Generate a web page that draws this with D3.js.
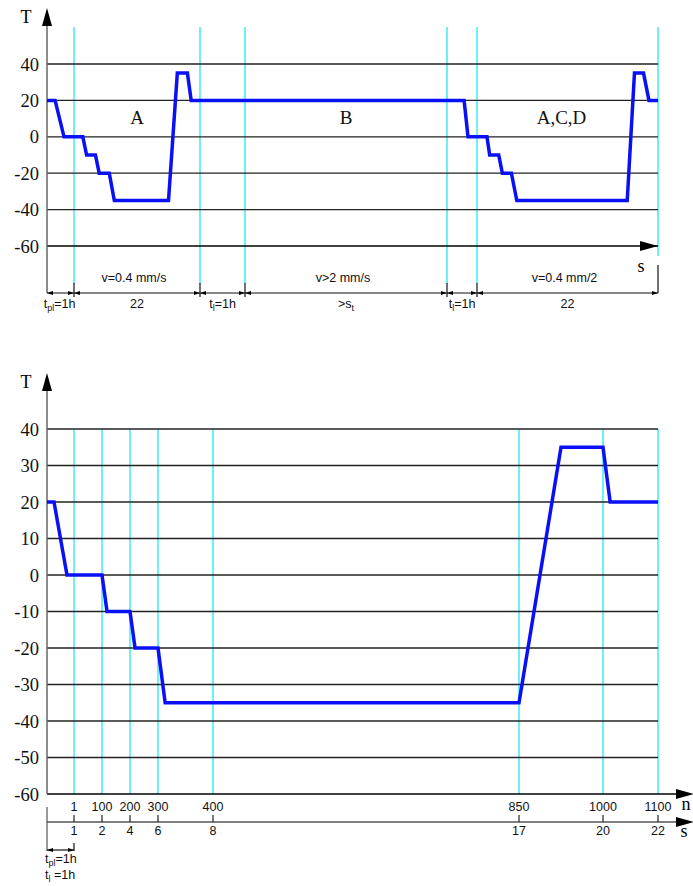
<!DOCTYPE html>
<html><head><meta charset="utf-8">
<script src="https://cdn.jsdelivr.net/npm/d3@7/dist/d3.min.js"></script>
<style>body{margin:0;background:#fff}svg{display:block}</style>
</head><body>
<script>
// ---------- data ----------
// top chart: x in "segment" units (0..6), segments of the test sequence
const topSegLabels = ["t|pl|=1h", "22", "t|l|=1h", ">s|t|", "t|l|=1h", "22"];
const topSpeedSeg = [1, 3, 5];
const topSpeedText = ["v=0.4 mm/s", "v>2 mm/s", "v=0.4 mm/2"];
const topRegionSeg = [1, 3, 5];
const topRegionText = ["A", "B", "A,C,D"];
const topGuideSeg = [1, 2, 3, 4, 5, 6];
const topYTicks = [40, 20, 0, -20, -40, -60];
const topX = [0, 0.30, 0.63, 1.07, 1.10, 1.17, 1.20, 1.28, 1.32, 1.75, 1.82, 1.90, 1.93,
              4.57, 4.70, 5.055, 5.07, 5.12, 5.14, 5.19, 5.22, 5.83, 5.87, 5.92, 5.95, 6.0];
const topT = [20, 20, 0, 0, -10, -10, -20, -20, -35, -35, 35, 35, 20,
              20, 0, 0, -10, -10, -20, -20, -35, -35, 35, 35, 20, 20];

// bottom chart: x in cycles n
const botNTicks = [1, 100, 200, 300, 400, 850, 1000, 1100];
const botSTicks = [1, 2, 4, 6, 8, 17, 20, 22];
const botYTicks = [40, 30, 20, 10, 0, -10, -20, -30, -40, -50, -60];
const botN = [0, 0.26, 0.74, 100, 118, 200, 218, 300, 313, 850, 925, 1000, 1013, 1100];
const botT = [20, 20, 0, 0, -10, -10, -20, -20, -35, -35, 35, 35, 20, 20];

// ---------- drawing ----------
const W = 693, H = 886;
const svg = d3.select("body").append("svg").attr("width", W).attr("height", H);
const SERIF = "'Liberation Serif','Times New Roman',serif";
const SANS = "'Liberation Sans',Arial,sans-serif";
const CYAN = "#22e6f2", BLUE = "#0a10f5", GRID = "#222";
const TICKFS = 18.5, SANSFS = 12.5;

function arrowHead(g, x, y, dir, len, half, color) {
  let pts;
  if (dir === "up") pts = [[x, y], [x - half, y + len], [x + half, y + len]];
  else if (dir === "right") pts = [[x, y], [x - len, y - half], [x - len, y + half]];
  else if (dir === "left") pts = [[x, y], [x + len, y - half], [x + len, y + half]];
  g.append("path").attr("d", d3.line()(pts) + "Z").attr("fill", color || "#000");
}
function subText(g, x, y, str, size, anchor) {
  const parts = str.split("|");
  const t = g.append("text").attr("x", x).attr("y", y).attr("font-family", SANS)
    .attr("font-size", size).attr("text-anchor", anchor || "middle").attr("fill", "#111");
  t.append("tspan").text(parts[0]);
  if (parts.length > 1) {
    t.append("tspan").attr("dy", 2.5).attr("font-size", size * 0.72).text(parts[1]);
    if (parts[2] !== undefined) t.append("tspan").attr("dy", -2.5).text(parts[2]);
  }
  return t;
}

// ===== TOP CHART =====
{
  const g = svg.append("g");
  const x = d3.scaleLinear().domain([0, 1, 2, 3, 4, 5, 6]).range([47, 74, 200, 245, 447, 477, 658]);
  const y = d3.scaleLinear().domain([-60, 40]).range([246, 64]);
  const dimY = 293;

  g.selectAll(".cy").data(topGuideSeg).join("line")
    .attr("x1", d => x(d)).attr("x2", d => x(d))
    .attr("y1", 27).attr("y2", d => d === 6 ? 256 : 284)
    .attr("stroke", CYAN).attr("stroke-width", 1.3);

  g.selectAll(".gr").data(topYTicks).join("line")
    .attr("x1", x(0)).attr("x2", x(6)).attr("y1", d => y(d)).attr("y2", d => y(d))
    .attr("stroke", d => d === -60 ? "#000" : GRID).attr("stroke-width", 1.3);
  arrowHead(g, x(6), y(-60), "right", 18, 5);
  g.append("text").attr("x", 641).attr("y", 272).attr("font-family", SERIF)
    .attr("font-size", 18).attr("text-anchor", "middle").text("s");

  g.append("line").attr("x1", 47).attr("x2", 47).attr("y1", 24).attr("y2", dimY)
    .attr("stroke", "#666").attr("stroke-width", 1.5);
  arrowHead(g, 47, 8, "up", 18, 5);
  g.append("text").attr("x", 26).attr("y", 23).attr("font-family", SERIF)
    .attr("font-size", 18).attr("text-anchor", "middle").text("T");
  g.selectAll(".yl").data(topYTicks).join("text")
    .attr("x", 39).attr("y", d => y(d) + 6.5).attr("text-anchor", "end")
    .attr("font-family", SERIF).attr("font-size", TICKFS).attr("fill", "#111").text(d => d);

  g.append("line").attr("x1", 47).attr("x2", x(6)).attr("y1", dimY).attr("y2", dimY)
    .attr("stroke", "#111").attr("stroke-width", 1.2);
  g.selectAll(".tk").data(topGuideSeg.slice(0, 5)).join("line")
    .attr("x1", d => x(d)).attr("x2", d => x(d)).attr("y1", 283).attr("y2", 297)
    .attr("stroke", "#111").attr("stroke-width", 1.2);
  g.append("line").attr("x1", x(6)).attr("x2", x(6)).attr("y1", 265).attr("y2", dimY)
    .attr("stroke", "#111").attr("stroke-width", 1.2);
  [0, 1, 2, 3, 4, 5, 6].forEach(d => {
    if (d > 0) arrowHead(g, x(d), dimY, "right", 6, 2);
    if (d < 6) arrowHead(g, x(d), dimY, "left", 6, 2);
  });
  topSegLabels.forEach((s, i) => {
    subText(g, (x(i) + x(i + 1)) / 2 + (i === 0 ? -1 : 0), 308, s, SANSFS);
  });
  topSpeedSeg.forEach((s, i) => {
    g.append("text").attr("x", (x(s) + x(s + 1)) / 2 - 3).attr("y", 282)
      .attr("font-family", SANS).attr("font-size", SANSFS).attr("text-anchor", "middle")
      .attr("fill", "#111").text(topSpeedText[i]);
  });
  topRegionSeg.forEach((s, i) => {
    g.append("text").attr("x", (x(s) + x(s + 1)) / 2 - (i === 2 ? 6 : 0)).attr("y", 124)
      .attr("font-family", SERIF).attr("font-size", 19).attr("text-anchor", "middle")
      .attr("fill", "#111").text(topRegionText[i]);
  });

  const pts = topX.map((v, i) => [x(v), y(topT[i])]);
  g.append("path").attr("d", d3.line()(pts)).attr("fill", "none")
    .attr("stroke", BLUE).attr("stroke-width", 3.5).attr("stroke-linejoin", "miter");
}

// ===== BOTTOM CHART =====
{
  const g = svg.append("g");
  const x = d3.scaleLinear().domain([0, 1, 100, 200, 300, 400, 850, 1000, 1100])
    .range([47, 74, 102, 130, 158, 213, 519, 603, 658]);
  const y = d3.scaleLinear().domain([-60, 40]).range([794, 429]);

  g.selectAll(".cy").data(botNTicks).join("line")
    .attr("x1", d => x(d)).attr("x2", d => x(d)).attr("y1", y(40)).attr("y2", y(-60))
    .attr("stroke", CYAN).attr("stroke-width", 1.3);

  g.selectAll(".gr").data(botYTicks).join("line")
    .attr("x1", x(0)).attr("x2", d => d === -60 ? 690 : x(1100))
    .attr("y1", d => y(d)).attr("y2", d => y(d))
    .attr("stroke", d => d === -60 ? "#000" : GRID).attr("stroke-width", 1.3);
  arrowHead(g, 694, y(-60), "right", 18, 5);

  g.append("line").attr("x1", 47).attr("x2", 47).attr("y1", 390).attr("y2", y(-60))
    .attr("stroke", "#666").attr("stroke-width", 1.5);
  arrowHead(g, 47, 373, "up", 18, 5);
  g.append("text").attr("x", 26).attr("y", 388).attr("font-family", SERIF)
    .attr("font-size", 18).attr("text-anchor", "middle").text("T");
  g.selectAll(".yl").data(botYTicks).join("text")
    .attr("x", 39).attr("y", d => y(d) + 6.5).attr("text-anchor", "end")
    .attr("font-family", SERIF).attr("font-size", TICKFS).attr("fill", "#111").text(d => d);

  g.selectAll(".nl").data(botNTicks).join("text")
    .attr("x", d => x(d)).attr("y", 811).attr("text-anchor", "middle")
    .attr("font-family", SANS).attr("font-size", SANSFS).attr("fill", "#111").text(d => d);
  g.append("text").attr("x", 686).attr("y", 810).attr("font-family", SERIF)
    .attr("font-size", 18).attr("text-anchor", "middle").text("n");

  const sY = 822;
  g.append("line").attr("x1", 47).attr("x2", 690).attr("y1", sY).attr("y2", sY)
    .attr("stroke", "#555").attr("stroke-width", 1.5);
  arrowHead(g, 694, sY, "right", 18, 5);
  g.selectAll(".st").data(botNTicks).join("line")
    .attr("x1", d => x(d)).attr("x2", d => x(d)).attr("y1", 815).attr("y2", sY)
    .attr("stroke", "#222").attr("stroke-width", 1.2);
  g.selectAll(".sl").data(botSTicks).join("text")
    .attr("x", (d, i) => x(botNTicks[i])).attr("y", 835).attr("text-anchor", "middle")
    .attr("font-family", SANS).attr("font-size", SANSFS).attr("fill", "#111").text(d => d);
  g.append("text").attr("x", 684).attr("y", 837).attr("font-family", SERIF)
    .attr("font-size", 18).attr("text-anchor", "middle").text("s");

  g.append("line").attr("x1", 47).attr("x2", 47).attr("y1", 807).attr("y2", 851)
    .attr("stroke", "#555").attr("stroke-width", 1.2);
  g.append("line").attr("x1", x(1)).attr("x2", x(1)).attr("y1", 843).attr("y2", 851)
    .attr("stroke", "#111").attr("stroke-width", 1.2);
  g.append("line").attr("x1", 47).attr("x2", x(1)).attr("y1", 850).attr("y2", 850)
    .attr("stroke", "#111").attr("stroke-width", 1.2);
  arrowHead(g, 47, 850, "left", 6, 2);
  arrowHead(g, x(1), 850, "right", 6, 2);
  subText(g, 45, 863, "t|pl|=1h", SANSFS, "start");
  subText(g, 45, 879, "t|l| =1h", SANSFS, "start");

  const pts = botN.map((v, i) => [x(v), y(botT[i])]);
  g.append("path").attr("d", d3.line()(pts)).attr("fill", "none")
    .attr("stroke", BLUE).attr("stroke-width", 3.5).attr("stroke-linejoin", "miter");
}
</script>
</body></html>
